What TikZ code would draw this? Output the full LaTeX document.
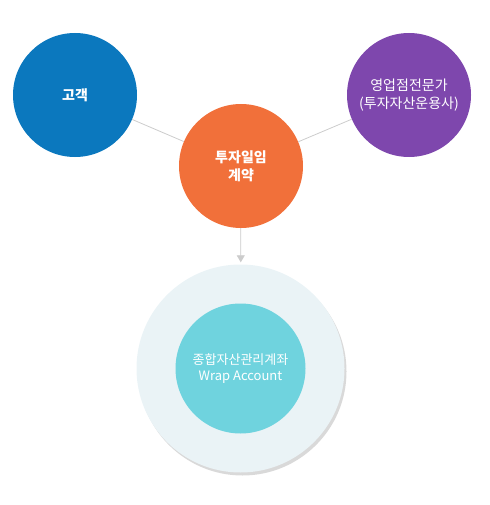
\documentclass[tikz,border=0pt]{standalone}
\usepackage{fontspec}
\newfontfamily\kor{Noto Sans CJK KR}
\usetikzlibrary{arrows.meta,shadows}

\definecolor{custblue}{HTML}{0B78BE}
\definecolor{contorange}{HTML}{F1703A}
\definecolor{expertpurple}{HTML}{7E47AD}
\definecolor{wrapteal}{HTML}{6FD3DE}
\definecolor{ringgray}{HTML}{EAF3F6}
\definecolor{linkgray}{HTML}{CCCCCC}

\begin{document}
\begin{tikzpicture}[x=1pt, y=-1pt, >={Triangle[length=7pt, width=8pt]}]
        \tikzset{
            party/.style={circle, minimum size=124pt, inner sep=0pt, align=center, text=white, font=\kor\fontsize{14}{18}\selectfont},
            ring/.style={circle, fill=ringgray, minimum size=208pt, inner sep=0pt, drop shadow={shadow xshift=2pt, shadow yshift=-3pt, opacity=0.3, fill=black!50}},
            core/.style={circle, fill=wrapteal, minimum size=130pt, inner sep=0pt, align=center, text=white, font=\kor\fontsize{13}{16}\selectfont},
            link/.style={draw=linkgray, line width=0.8pt}
        }
        \useasboundingbox (0,0) rectangle (489,505);

        % Nodes
        \node [party, fill=custblue, font=\kor\bfseries\fontsize{14}{18}\selectfont] (cust) at (75,95) {고객};
        \node [party, fill=expertpurple] (expert) at (409,95) {영업점전문가\\(투자자산운용사)};
        \node [party, fill=contorange, font=\kor\bfseries\fontsize{14}{18}\selectfont] (contract) at (241,166) {투자일임\\계약};
        \node [ring] (wrap) at (240.5,368.5) {};
        \node [core] (account) at (wrap.center) {종합자산관리계좌\\Wrap Account};

        % Connections
        \draw [link] (cust) -- (contract);
        \draw [link] (expert) -- (contract);
        \draw [link, ->, fill=linkgray, shorten >=2pt] (contract) -- (wrap);
    \end{tikzpicture}
\end{document}
